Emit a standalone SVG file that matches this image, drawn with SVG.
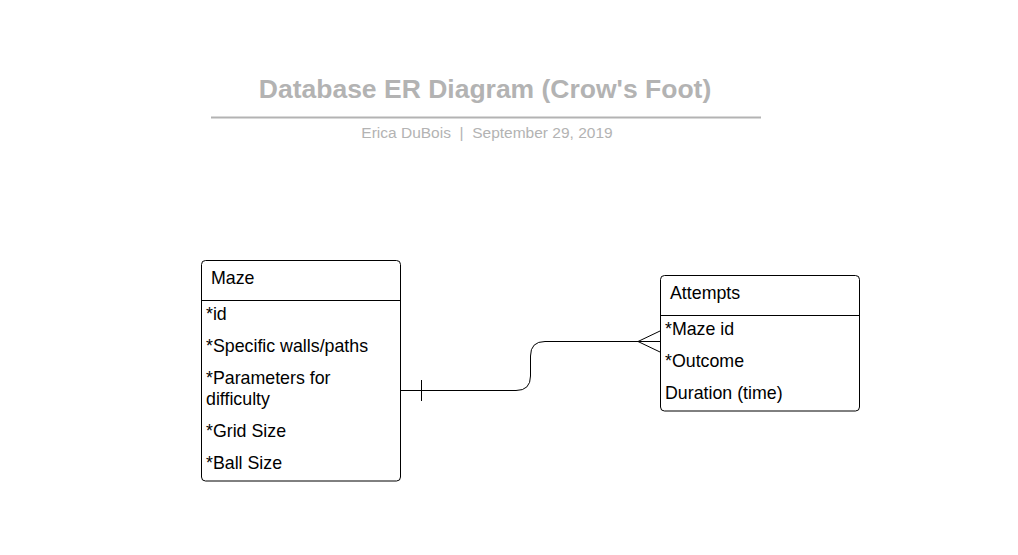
<svg xmlns="http://www.w3.org/2000/svg" width="1018" height="555" viewBox="0 0 1018 555">
<style>
.box{fill:#fff;stroke:#000;stroke-width:1}
.div{stroke:#000;stroke-width:1}
.t{font-family:"Liberation Sans",Arial,sans-serif;font-size:17.8px;fill:#000}
.c{fill:none;stroke:#000;stroke-width:1}
</style>
<rect width="1018" height="555" fill="#fff"/>
<g id="title">
<text x="485" y="98" text-anchor="middle" font-family="Liberation Sans,Arial,sans-serif" font-weight="bold" font-size="26.5" fill="#b3b3b3">Database ER Diagram (Crow's Foot)</text>
<line x1="211" y1="117.5" x2="761" y2="117.5" stroke="#b3b3b3" stroke-width="2"/>
<text x="487" y="138" text-anchor="middle" font-family="Liberation Sans,Arial,sans-serif" font-size="15.5" fill="#b3b3b3" xml:space="preserve">Erica DuBois  |  September 29, 2019</text>
</g>
<g id="maze">
<rect class="box" x="201.5" y="260.5" width="199" height="220.5" rx="4"/>
<line class="div" x1="201.5" y1="300.5" x2="400.5" y2="300.5"/>
<text class="t" x="211" y="283.5">Maze</text>
<text class="t" x="206" y="319.5">*id</text>
<text class="t" x="206" y="351.5">*Specific walls/paths</text>
<text class="t" x="206" y="383.5">*Parameters for</text>
<text class="t" x="206" y="404.5">difficulty</text>
<text class="t" x="206" y="436.5">*Grid Size</text>
<text class="t" x="206" y="468.5">*Ball Size</text>
</g>
<g id="attempts">
<rect class="box" x="660.5" y="275.5" width="199" height="135.5" rx="4"/>
<line class="div" x1="660.5" y1="315.5" x2="859.5" y2="315.5"/>
<text class="t" x="670" y="299">Attempts</text>
<text class="t" x="665" y="334.5">*Maze id</text>
<text class="t" x="665" y="366.5">*Outcome</text>
<text class="t" x="665" y="398.5">Duration (time)</text>
</g>
<g id="connectors">
<path class="c" d="M401,390.5 H516 Q530.5,390.5 530.5,376 V356 Q530.5,341.5 545,341.5 H660"/>
<line class="c" x1="421.5" y1="380" x2="421.5" y2="401"/>
<path class="c" d="M660,331 L638,341.5 L660,352"/>
</g>
</svg>
